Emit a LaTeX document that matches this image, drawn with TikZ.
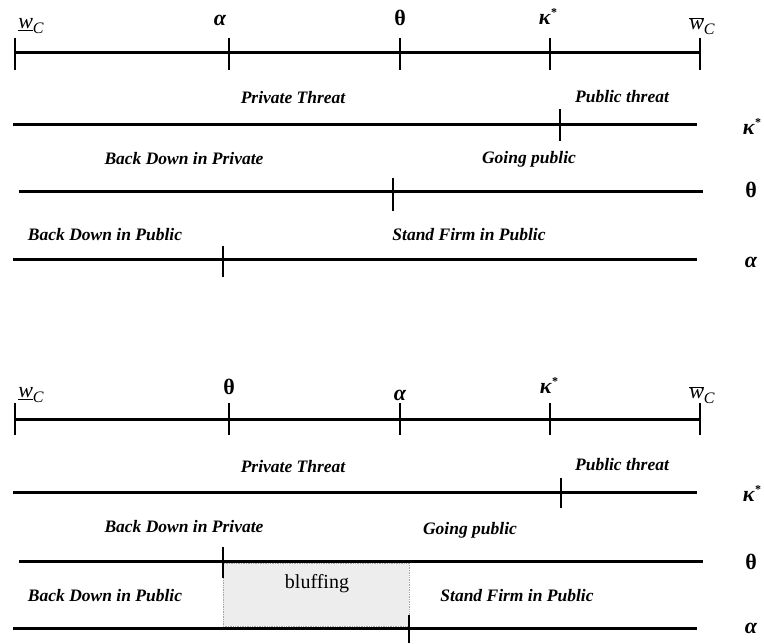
\documentclass[tikz,border=0pt]{standalone}
\usepackage{fontspec}
\setmainfont{Liberation Serif}
\begin{document}
\begin{tikzpicture}[x=1pt,y=-1pt,
  axis/.style={line width=3pt},
  tick/.style={line width=2.6pt},
  region/.style={font=\bfseries\itshape\fontsize{17.5}{19}\selectfont, inner sep=0pt},
  param/.style={font=\fontsize{22}{24}\selectfont, inner sep=0pt},
  shade/.style={fill=black!7, draw=black!35, densely dotted, line width=0.7pt}]
\useasboundingbox (0,0) rectangle (764,644);

% ---------- upper panel: alpha < theta < kappa* ----------
\foreach \n/\x in {a/15,b/229,c/400,d/550,e/700}{
  \coordinate (u\n) at (\x,53);
  \coordinate (u\n t) at (\x,38);
  \coordinate (u\n b) at (\x,70);
  \draw[tick] (u\n t) -- (u\n b);
}
\draw[axis] (ua) -- (ue);
\node[param] (uwlo) at (31,26) {\underline{\textit{w}}\raisebox{-0.45ex}{\fontsize{16}{18}\selectfont\textit{C}}};
\node[param] (ual) at (220,20) {\textbf{\textit{α}}};
\node[param] (uth) at (400,18) {\textbf{θ}};
\node[param] (uka) at (548,17) {\textbf{\textit{κ}}\raisebox{0.8ex}{\fontsize{12}{14}\selectfont\bfseries *}};
\node[param] (uwhi) at (702,26) {$\overline{\hbox{\textit{w}}}$\raisebox{-0.45ex}{\fontsize{16}{18}\selectfont\textit{C}}};

% kappa* row
\coordinate (uk1) at (13,125); \coordinate (uk2) at (697,125);
\coordinate (ukt) at (560,109); \coordinate (ukb) at (560,141);
\draw[axis] (uk1) -- (uk2);
\draw[tick] (ukt) -- (ukb);
\node[region] (upt) at (293,98) {Private Threat};
\node[region] (upu) at (622,97) {Public threat};
\node[param] (ukl) at (752,127) {\textbf{\textit{κ}}\raisebox{0.8ex}{\fontsize{12}{14}\selectfont\bfseries *}};

% theta row
\coordinate (ut1) at (19,192); \coordinate (ut2) at (703,192);
\coordinate (utt) at (393,178); \coordinate (utb) at (393,211);
\draw[axis] (ut1) -- (ut2);
\draw[tick] (utt) -- (utb);
\node[region] (ubp) at (184,159) {Back Down in Private};
\node[region] (ugp) at (529,159) {Going public};
\node[param] (utl) at (751,190) {\textbf{θ}};

% alpha row
\coordinate (ua1) at (13,260); \coordinate (ua2) at (697,260);
\coordinate (uat) at (223,246); \coordinate (uab) at (223,277);
\draw[axis] (ua1) -- (ua2);
\draw[tick] (uat) -- (uab);
\node[region] (ubu) at (105,235) {Back Down in Public};
\node[region] (usf) at (469,235) {Stand Firm in Public};
\node[param] (ual2) at (751,262) {\textbf{\textit{α}}};

% ---------- lower panel: theta < alpha < kappa* ----------
\foreach \n/\x in {a/15,b/229,c/400,d/550,e/700}{
  \coordinate (l\n) at (\x,420);
  \coordinate (l\n t) at (\x,403);
  \coordinate (l\n b) at (\x,435);
  \draw[tick] (l\n t) -- (l\n b);
}
\draw[axis] (la) -- (le);
\node[param] (lwlo) at (31,395) {\underline{\textit{w}}\raisebox{-0.45ex}{\fontsize{16}{18}\selectfont\textit{C}}};
\node[param] (lth) at (229,387) {\textbf{θ}};
\node[param] (lal) at (400,395) {\textbf{\textit{α}}};
\node[param] (lka) at (549,386) {\textbf{\textit{κ}}\raisebox{0.8ex}{\fontsize{12}{14}\selectfont\bfseries *}};
\node[param] (lwhi) at (702,395) {$\overline{\hbox{\textit{w}}}$\raisebox{-0.45ex}{\fontsize{16}{18}\selectfont\textit{C}}};

% bluffing band between theta and alpha
\coordinate (bf1) at (223,563); \coordinate (bf2) at (409,626);
\path[shade] (bf1) rectangle (bf2);
\node[font=\fontsize{20}{22}\selectfont, inner sep=0pt] (blf) at (317,584) {bluffing};

% kappa* row
\coordinate (lk1) at (13,493); \coordinate (lk2) at (697,493);
\coordinate (lkt) at (561,478); \coordinate (lkb) at (561,508);
\draw[axis] (lk1) -- (lk2);
\draw[tick] (lkt) -- (lkb);
\node[region] (lpt) at (293,467) {Private Threat};
\node[region] (lpu) at (622,465) {Public threat};
\node[param] (lkl) at (752,494) {\textbf{\textit{κ}}\raisebox{0.8ex}{\fontsize{12}{14}\selectfont\bfseries *}};

% theta row
\coordinate (lt1) at (19,561); \coordinate (lt2) at (703,561);
\coordinate (ltt) at (223,547); \coordinate (ltb) at (223,578);
\draw[axis] (lt1) -- (lt2);
\draw[tick] (ltt) -- (ltb);
\node[region] (lbp) at (184,527) {Back Down in Private};
\node[region] (lgp) at (470,530) {Going public};
\node[param] (ltl) at (751,562) {\textbf{θ}};

% alpha row
\coordinate (la1) at (13,628); \coordinate (la2) at (697,628);
\coordinate (lat) at (409,615); \coordinate (lab) at (409,643);
\draw[axis] (la1) -- (la2);
\draw[tick] (lat) -- (lab);
\node[region] (lbu) at (105,596) {Back Down in Public};
\node[region] (lsf) at (517,596) {Stand Firm in Public};
\node[param] (lal2) at (751,628) {\textbf{\textit{α}}};
\end{tikzpicture}
\end{document}
